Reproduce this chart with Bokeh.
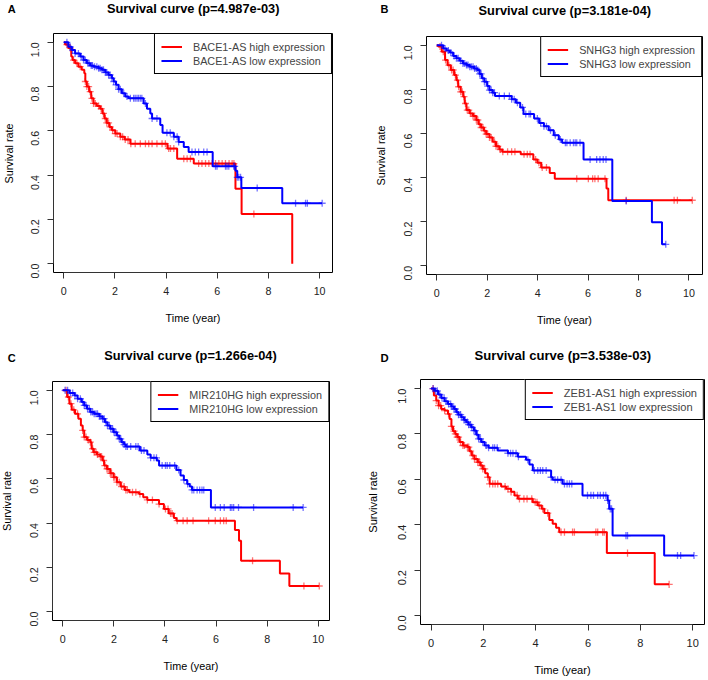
import math
import numpy as np
from bokeh.plotting import figure
from bokeh.models import (Label, Legend, LegendItem, FixedTicker, Range1d,
                          PrintfTickFormatter)
from bokeh.layouts import column, row
from bokeh.embed import file_html
from bokeh.resources import INLINE

FONT = "Liberation Sans"
RED = "#FF0000"
BLUE = "#0000FF"

x_ticks = [0, 2, 4, 6, 8, 10]
y_ticks = [0.0, 0.2, 0.4, 0.6, 0.8, 1.0]
x_label = "Time (year)"
y_label = "Survival rate"

# ---------------- Panel A : BACE1-AS ----------------
a_gene = "BACE1-AS"
a_p = "4.987e-03"
a_high_time = [0.05, 0.18, 0.29, 0.34, 0.44, 0.57, 0.70, 0.80, 0.84, 0.90, 0.99, 1.07, 1.16, 1.29,
               1.42, 1.51, 1.59, 1.68, 1.78, 1.88, 2.01, 2.21, 2.38, 2.60, 4.05, 4.43, 5.08, 6.71,
               6.95, 8.93]
a_high_surv = [0.99, 0.974, 0.936, 0.92, 0.906, 0.89, 0.876, 0.86, 0.823, 0.80, 0.777, 0.747, 0.724,
               0.712, 0.70, 0.679, 0.656, 0.636, 0.618, 0.603, 0.588, 0.573, 0.561, 0.542, 0.52,
               0.474, 0.452, 0.338, 0.224, 0.0]
a_high_cens = [0.12, 0.25, 0.38, 0.51, 0.64, 0.84, 0.9, 0.97, 1.03, 1.10, 1.16, 1.23, 1.36, 1.46, 1.55,
               1.62, 1.68, 1.75, 1.81, 1.91, 2.01, 2.08, 2.21, 2.30, 2.40, 2.51, 2.62, 2.79, 2.99,
               3.19, 3.32, 3.45, 3.64, 3.84, 3.97, 4.10, 4.17, 4.30, 4.69, 4.82, 4.95, 5.27, 5.40,
               5.54, 5.67, 5.80, 5.93, 6.06, 6.19, 6.32, 6.46, 6.58, 6.65, 7.43]
a_low_time = [0.18, 0.31, 0.44, 0.64, 0.77, 0.90, 1.03, 1.16, 1.36, 1.49, 1.62, 1.75, 1.88, 1.95, 2.04,
              2.14, 2.27, 2.40, 2.53, 3.12, 3.25, 3.38, 3.45, 3.77, 3.86, 4.30, 4.49, 4.69, 4.88,
              5.82, 6.71, 6.78, 6.94, 8.54]
a_low_surv = [0.98, 0.965, 0.95, 0.936, 0.92, 0.906, 0.895, 0.89, 0.883, 0.876, 0.864, 0.853, 0.838,
              0.823, 0.808, 0.788, 0.77, 0.755, 0.747, 0.724, 0.70, 0.679, 0.656, 0.626, 0.591,
              0.573, 0.55, 0.527, 0.505, 0.44, 0.42, 0.39, 0.342, 0.273]
a_low_cens = [0.12, 0.25, 0.34, 0.44, 0.57, 0.68, 0.77, 0.84, 0.94, 0.99, 1.07, 1.12, 1.2, 1.29, 1.36,
              1.42, 1.49, 1.55, 1.62, 1.68, 1.75, 1.81, 1.88, 1.95, 2.04, 2.14, 2.21, 2.34, 2.47,
              2.6, 2.73, 2.79, 2.86, 2.92, 2.99, 3.05, 3.19, 3.45, 3.64, 4.03, 4.16, 4.3, 4.43,
              4.49, 5.01, 5.14, 5.27, 5.47, 5.6, 5.93, 5.99, 6.32, 6.38, 6.45, 6.64, 6.68, 6.78,
              6.84, 6.91, 7.56, 9.06, 9.45, 9.52, 10.10]

# ---------------- Panel B : SNHG3 ----------------
b_gene = "SNHG3"
b_p = "3.181e-04"
b_high_time = [0.06, 0.2, 0.33, 0.43, 0.56, 0.69, 0.78, 0.85, 0.95, 1.05, 1.11, 1.18, 1.31, 1.44,
               1.57, 1.66, 1.76, 1.87, 1.96, 2.09, 2.22, 2.35, 2.48, 2.6, 3.33, 3.83, 3.99, 4.14,
               4.48, 4.68, 6.73, 6.8]
b_high_surv = [0.995, 0.971, 0.933, 0.91, 0.888, 0.865, 0.842, 0.812, 0.789, 0.767, 0.736, 0.706,
               0.691, 0.679, 0.661, 0.642, 0.627, 0.612, 0.597, 0.582, 0.562, 0.542, 0.527, 0.517,
               0.506, 0.482, 0.467, 0.445, 0.421, 0.395, 0.35, 0.297]
b_high_cens = [0.13, 0.26, 0.35, 0.48, 0.59, 0.65, 0.74, 0.82, 0.87, 0.95, 1.01, 1.08, 1.14, 1.21,
               1.27, 1.35, 1.44, 1.5, 1.57, 1.63, 1.7, 1.76, 1.83, 1.89, 1.96, 2.02, 2.09, 2.16,
               2.29, 2.35, 2.42, 2.52, 2.62, 2.81, 2.97, 3.1, 3.46, 3.59, 3.7, 3.92, 4.05, 4.18,
               4.35, 5.55, 6.01, 6.18, 6.27, 6.4, 6.67, 7.51, 9.41, 9.54, 10.13]
b_low_time = [0.26, 0.39, 0.52, 0.65, 0.78, 0.91, 1.04, 1.18, 1.31, 1.48, 1.61, 1.7, 1.79, 1.89, 2.0,
              2.09, 2.22, 2.31, 2.97, 3.14, 3.31, 3.44, 3.86, 4.06, 4.25, 4.44, 4.64, 4.84, 4.97,
              5.82, 6.96, 8.53, 8.93]
b_low_surv = [0.986, 0.976, 0.967, 0.952, 0.941, 0.93, 0.918, 0.911, 0.903, 0.895, 0.888, 0.87, 0.85,
              0.835, 0.815, 0.797, 0.785, 0.77, 0.755, 0.739, 0.718, 0.688, 0.668, 0.648, 0.633,
              0.615, 0.592, 0.573, 0.558, 0.482, 0.294, 0.197, 0.097]
b_low_cens = [0.19, 0.33, 0.46, 0.56, 0.69, 0.78, 0.85, 0.95, 1.04, 1.11, 1.18, 1.24, 1.31, 1.37,
              1.44, 1.5, 1.57, 1.63, 1.7, 1.76, 1.83, 1.89, 1.96, 2.02, 2.09, 2.16, 2.22, 2.29,
              2.48, 2.68, 2.88, 2.97, 3.07, 3.2, 3.4, 3.53, 3.66, 3.72, 3.99, 4.12, 4.25, 4.35,
              4.51, 4.7, 4.9, 5.1, 5.16, 5.29, 5.42, 5.49, 5.55, 5.68, 6.08, 6.34, 6.47, 6.6,
              6.71, 7.51, 9.08]

# ---------------- Panel C : MIR210HG ----------------
c_gene = "MIR210HG"
c_p = "1.266e-04"
c_high_time = [0.17, 0.26, 0.35, 0.48, 0.61, 0.71, 0.78, 0.84, 0.95, 1.08, 1.13, 1.21, 1.34, 1.47,
               1.56, 1.62, 1.73, 1.86, 1.99, 2.12, 2.27, 2.43, 2.6, 2.99, 3.15, 3.31, 3.77, 3.96,
               4.15, 4.35, 4.45, 6.74, 6.9, 6.98, 8.5, 8.87]
c_high_surv = [0.97, 0.94, 0.912, 0.894, 0.872, 0.841, 0.819, 0.789, 0.776, 0.766, 0.736, 0.72,
               0.71, 0.701, 0.683, 0.66, 0.645, 0.625, 0.607, 0.585, 0.565, 0.55, 0.539, 0.532,
               0.517, 0.505, 0.486, 0.464, 0.444, 0.423, 0.411, 0.369, 0.32, 0.23, 0.172, 0.116]
c_high_cens = [0.13, 0.22, 0.32, 0.43, 0.58, 0.78, 0.84, 0.91, 1.0, 1.08, 1.17, 1.23, 1.3, 1.36,
               1.47, 1.52, 1.6, 1.65, 1.73, 1.78, 1.86, 1.91, 1.99, 2.04, 2.12, 2.21, 2.3, 2.4,
               2.47, 2.53, 2.73, 2.86, 3.02, 3.31, 3.51, 3.77, 4.02, 4.12, 4.22, 4.28, 4.48, 4.71,
               4.87, 5.1, 5.71, 5.97, 6.17, 6.3, 6.4, 7.43, 9.44, 10.04]
c_low_time = [0.26, 0.46, 0.58, 0.74, 0.84, 0.95, 1.08, 1.23, 1.43, 1.56, 1.65, 1.75, 1.86, 1.99,
              2.12, 2.21, 2.3, 2.4, 2.47, 3.02, 3.31, 3.44, 3.68, 3.77, 4.45, 4.61, 4.74, 4.87,
              4.97, 5.06, 5.8]
c_low_surv = [0.988, 0.977, 0.962, 0.947, 0.932, 0.917, 0.902, 0.894, 0.882, 0.872, 0.856, 0.841,
              0.826, 0.811, 0.796, 0.781, 0.766, 0.755, 0.746, 0.728, 0.71, 0.695, 0.683, 0.66,
              0.64, 0.615, 0.595, 0.577, 0.565, 0.55, 0.471]
c_low_cens = [0.09, 0.19, 0.3, 0.39, 0.48, 0.58, 0.69, 0.78, 0.84, 0.91, 0.97, 1.04, 1.1, 1.17, 1.23,
              1.3, 1.36, 1.43, 1.49, 1.56, 1.62, 1.69, 1.75, 1.82, 1.88, 1.95, 2.01, 2.08, 2.14,
              2.21, 2.27, 2.34, 2.4, 2.47, 2.53, 2.66, 2.86, 2.95, 3.08, 3.18, 3.44, 3.57, 3.67,
              3.89, 4.02, 4.09, 4.19, 4.38, 4.54, 4.74, 4.89, 5.06, 5.13, 5.26, 5.36, 5.45, 5.52,
              5.97, 6.17, 6.32, 6.56, 6.62, 6.69, 6.88, 7.47, 9.02, 9.41]

# ---------------- Panel D : ZEB1-AS1 ----------------
d_gene = "ZEB1-AS1"
d_p = "3.538e-03"
d_high_time = [0.11, 0.2, 0.29, 0.39, 0.52, 0.65, 0.71, 0.78, 0.84, 0.93, 1.0, 1.09, 1.22, 1.39,
               1.47, 1.56, 1.66, 1.79, 1.89, 1.98, 2.07, 2.17, 2.24, 2.68, 2.87, 3.06, 3.19, 3.32,
               3.89, 4.08, 4.23, 4.33, 4.52, 4.65, 4.78, 4.9, 6.72, 8.55]
d_high_surv = [0.97, 0.947, 0.925, 0.91, 0.903, 0.888, 0.866, 0.833, 0.812, 0.8, 0.786, 0.764,
               0.749, 0.742, 0.724, 0.705, 0.69, 0.675, 0.661, 0.646, 0.627, 0.609, 0.58, 0.568,
               0.558, 0.545, 0.529, 0.514, 0.499, 0.485, 0.47, 0.451, 0.421, 0.404, 0.386, 0.367,
               0.275, 0.137]
d_high_cens = [0.08, 0.2, 0.29, 0.37, 0.52, 0.67, 0.78, 0.88, 0.93, 1.0, 1.05, 1.13, 1.22, 1.28,
               1.39, 1.44, 1.51, 1.6, 1.66, 1.73, 1.79, 1.86, 1.92, 1.98, 2.05, 2.17, 2.24, 2.36,
               2.45, 2.55, 2.83, 2.94, 3.06, 3.29, 3.38, 3.55, 3.67, 3.85, 3.98, 4.05, 4.14, 4.27,
               4.46, 4.97, 5.1, 5.41, 5.48, 6.3, 6.37, 6.56, 6.62, 7.51, 9.1]
d_low_time = [0.14, 0.27, 0.39, 0.52, 0.65, 0.78, 0.88, 0.97, 1.05, 1.16, 1.26, 1.35, 1.44, 1.54,
              1.64, 1.73, 1.82, 1.92, 2.05, 2.2, 2.55, 2.94, 3.32, 3.63, 3.76, 3.89, 4.59, 4.65,
              5.03, 5.79, 6.75, 6.81, 6.94, 8.91]
d_low_surv = [0.99, 0.974, 0.959, 0.944, 0.932, 0.921, 0.91, 0.896, 0.885, 0.874, 0.862, 0.852,
              0.841, 0.83, 0.815, 0.797, 0.778, 0.764, 0.749, 0.739, 0.727, 0.715, 0.70, 0.686,
              0.665, 0.639, 0.609, 0.598, 0.58, 0.529, 0.507, 0.47, 0.352, 0.264]
d_low_cens = [0.08, 0.17, 0.24, 0.33, 0.42, 0.5, 0.58, 0.67, 0.75, 0.8, 0.88, 0.93, 1.0, 1.05, 1.13,
              1.18, 1.26, 1.31, 1.39, 1.44, 1.51, 1.56, 1.64, 1.69, 1.77, 1.82, 1.89, 1.98, 2.11,
              2.2, 2.36, 2.43, 2.53, 2.94, 3.04, 3.13, 3.25, 3.34, 3.7, 3.95, 4.08, 4.18, 4.27,
              4.4, 4.59, 4.74, 4.84, 4.97, 5.1, 5.2, 5.29, 5.38, 5.98, 6.11, 6.21, 6.37, 6.47,
              6.59, 6.68, 6.75, 6.85, 6.9, 7.45, 7.51, 9.42, 9.54, 10.05]


def km_path(times, surv, cens):
    end = max([times[-1]] + list(cens))
    xs = [0.0] + list(times)
    ys = [1.0] + list(surv)
    if end > xs[-1]:
        xs.append(end)
        ys.append(ys[-1])
    return xs, ys


def cens_y(times, surv, cens):
    t = np.array([0.0] + list(times))
    s = np.array([1.0] + list(surv))
    idx = np.searchsorted(t, np.array(cens), side="right") - 1
    return list(s[idx])


W, H = 354, 340
HT = 24  # height of the heading strip (panel letter + title)


def px(v):
    return f"{v:.1f}px"


def blank(width, height):
    f = figure(width=width, height=height, output_backend="svg", toolbar_location=None,
               x_range=Range1d(0, width), y_range=Range1d(height, 0),
               x_axis_type=None, y_axis_type=None, frame_align=False,
               min_border_left=0, min_border_right=0, min_border_top=0, min_border_bottom=0)
    f.outline_line_color = None
    f.grid.visible = False
    f.background_fill_color = "white"
    f.border_fill_color = "white"
    return f


def make_head(letter, pval, title_pos, letter_pos, k):
    h = blank(W, HT)
    tx, ty = title_pos
    h.add_layout(Label(x=tx, y=ty, text=f"Survival curve (p={pval})", text_font=FONT,
                       text_font_size=px(12.8 * k), text_font_style="bold",
                       text_align="center", text_baseline="middle", text_color="black"))
    lx, ly = letter_pos
    h.add_layout(Label(x=lx, y=ly, text=letter, text_font=FONT, text_font_size=px(11 * k),
                       text_font_style="bold", text_align="center", text_baseline="middle",
                       text_color="black"))
    return h


def make_strip(strip_w, ylab_pos, k):
    s = blank(strip_w, H - HT)
    lx, ly = ylab_pos
    s.add_layout(Label(x=lx, y=ly - HT, text=y_label, angle=math.pi / 2, text_font=FONT,
                       text_font_size=px(10.8 * k), text_align="center",
                       text_baseline="middle", text_color="black"))
    return s


def make_body(gene, hi, lo, frame, strip_w, k):
    fl, fr, ft, fb = frame
    bl, br = round(fl) - strip_w, round(W - fr)
    bt, bb = round(ft) - HT, round(H - fb)
    xmax = max(max(hi[0]), max(hi[2]), max(lo[0]), max(lo[2]))
    pad = 0.04 * xmax
    p = figure(width=W - strip_w, height=H - HT, output_backend="svg", toolbar_location=None,
               x_range=Range1d(-pad, xmax + pad), y_range=Range1d(-0.04, 1.04),
               frame_align=False,
               min_border_left=bl, min_border_right=br, min_border_top=bt,
               min_border_bottom=bb)
    p.xgrid.visible = False
    p.ygrid.visible = False
    p.outline_line_color = "black"
    p.outline_line_width = 1
    p.outline_line_alpha = 1
    p.background_fill_color = "white"
    p.border_fill_color = "white"

    for ax, ticks in ((p.xaxis[0], x_ticks), (p.yaxis[0], y_ticks)):
        ax.ticker = FixedTicker(ticks=ticks)
        ax.bounds = (ticks[0], ticks[-1])
        ax.axis_label_text_font = FONT
        ax.axis_label_text_font_size = px(10.8 * k)
        ax.axis_label_text_font_style = "normal"
        ax.axis_label_text_color = "black"
        ax.major_label_text_font = FONT
        ax.major_label_text_font_size = px(10.7 * k)
        ax.major_label_text_color = "#222222"
        ax.major_tick_in = 0
        ax.major_tick_out = 6
        ax.major_tick_line_color = "#333333"
        ax.minor_tick_line_color = None
        ax.axis_line_color = "#333333"
    p.xaxis[0].axis_label = x_label
    p.xaxis[0].major_label_standoff = 8
    p.xaxis[0].axis_label_standoff = 14
    p.yaxis[0].major_label_standoff = 12
    p.yaxis[0].formatter = PrintfTickFormatter(format="%.1f")
    p.yaxis[0].major_label_orientation = math.pi / 2

    renderers = []
    for (times, surv, cens), col in ((hi, RED), (lo, BLUE)):
        xs, ys = km_path(times, surv, cens)
        r = p.step(x=xs, y=ys, mode="after", line_color=col, line_width=2)
        p.scatter(x=list(cens), y=cens_y(times, surv, cens), marker="cross", size=7 * k,
                  line_color=col, line_alpha=0.55, line_width=1.3)
        renderers.append(r)

    legend = Legend(items=[LegendItem(label=f"{gene} high expression", renderers=[renderers[0]]),
                           LegendItem(label=f"{gene} low expression", renderers=[renderers[1]])],
                    location="top_right", margin=0, padding=6, spacing=1,
                    glyph_width=21, glyph_height=13, label_height=13, label_standoff=11,
                    label_text_font=FONT, label_text_font_size=px(10.8 * k),
                    border_line_color="black", border_line_width=1, border_line_alpha=1,
                    background_fill_color="white", background_fill_alpha=1)
    p.add_layout(legend)
    return p


def make_panel(letter, gene, pval, hi, lo, frame, title_pos, letter_pos, ylab_pos,
               strip_w, k=1.0):
    return column(make_head(letter, pval, title_pos, letter_pos, k),
                  row(make_strip(strip_w, ylab_pos, k),
                      make_body(gene, hi, lo, frame, strip_w, k), spacing=0),
                  spacing=0)


# frame = (left, right, top, bottom) of the plot box inside each 354x340 panel
pA = make_panel("A", a_gene, a_p, (a_high_time, a_high_surv, a_high_cens),
                (a_low_time, a_low_surv, a_low_cens), (53.3, 331.7, 33.3, 271.7),
                (192.7, 7.5), (11.2, 8.8), (8.7, 153.0), 20)
pB = make_panel("B", b_gene, b_p, (b_high_time, b_high_surv, b_high_cens),
                (b_low_time, b_low_surv, b_low_cens), (71.7, 347.7, 35.7, 274.0),
                (210.3, 10.0), (30.0, 8.8), (26.7, 155.0), 38)
pC = make_panel("C", c_gene, c_p, (c_high_time, c_high_surv, c_high_cens),
                (c_low_time, c_low_surv, c_low_cens), (51.7, 329.0, 41.3, 279.7),
                (190.0, 15.0), (11.2, 17.0), (6.3, 160.5), 20)
pD = make_panel("D", d_gene, d_p, (d_high_time, d_high_surv, d_high_cens),
                (d_low_time, d_low_surv, d_low_cens), (66.0, 350.0, 38.7, 284.0),
                (208.3, 15.0), (30.0, 17.8), (18.7, 161.4), 30, k=1.025)

layout = column(row(pA, pB, spacing=0), row(pC, pD, spacing=0), spacing=0)
open("out.html", "w").write(file_html(layout, INLINE))
